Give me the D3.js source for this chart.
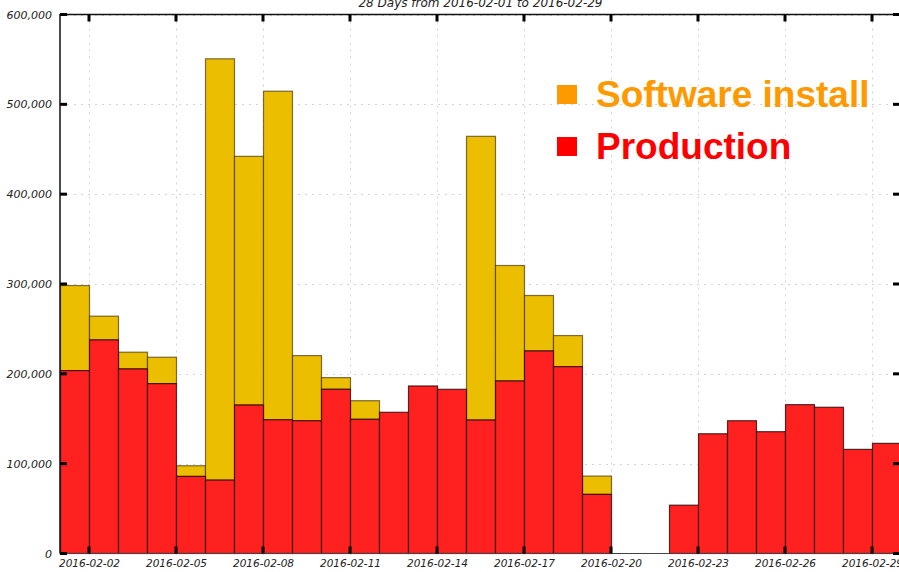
<!DOCTYPE html>
<html>
<head>
<meta charset="utf-8">
<script src="https://cdn.jsdelivr.net/npm/d3@7"></script>
<style>
  html, body { margin: 0; padding: 0; background: #fff; }
  svg { display: block; }
</style>
</head>
<body>
<svg id="chart" width="899" height="572"></svg>
<script>
// ---- data ----
const days = ["2016-02-01","2016-02-02","2016-02-03","2016-02-04","2016-02-05","2016-02-06","2016-02-07",
  "2016-02-08","2016-02-09","2016-02-10","2016-02-11","2016-02-12","2016-02-13","2016-02-14",
  "2016-02-15","2016-02-16","2016-02-17","2016-02-18","2016-02-19","2016-02-20","2016-02-21",
  "2016-02-22","2016-02-23","2016-02-24","2016-02-25","2016-02-26","2016-02-27","2016-02-28","2016-02-29"];
const production = [203600,237800,205500,189100,85800,81700,165300,148900,147800,182800,149400,157200,186500,182800,
  148600,192100,225500,208000,65800,0,0,53800,133300,147800,135600,165700,162800,115900,122600];
const softwareInstall = [94700,26400,18600,29400,11900,469000,276800,365700,72500,13000,20700,0,0,0,
  315800,128500,61700,34600,20400,0,0,0,0,0,0,0,0,0,0];
const yTickValues = [0,100000,200000,300000,400000,500000,600000];
const xTickLabels = ["2016-02-02","2016-02-05","2016-02-08","2016-02-11","2016-02-14","2016-02-17","2016-02-20","2016-02-23","2016-02-26","2016-02-29"];
const seriesNames = ["Software install","Production"];
const titleText = "28 Days from 2016-02-01 to 2016-02-29";

// ---- layout ----
const svg = d3.select("#chart");
const pLeft = 60, pRight = 901, pTop = 14.5, pBottom = 553.5;
const parse = d3.utcParse("%Y-%m-%d");
const fmtDate = d3.utcFormat("%Y-%m-%d");

const x = d3.scaleUtc()
  .domain([parse(days[0]), d3.utcDay.offset(parse(days[days.length-1]), 1)])
  .range([pLeft, pRight]);
const y = d3.scaleLinear().domain([0, 600000]).range([pBottom, pTop]);

const xTicks = xTickLabels.map(parse);
const fontFam = "'DejaVu Sans', sans-serif";

// grid
const grid = svg.append("g").attr("stroke", "#d4d4d4").attr("stroke-dasharray", "2,5").attr("stroke-width", 1);
grid.selectAll("line.v").data(xTicks).join("line")
  .attr("x1", d => Math.round(x(d)) + 0.5).attr("x2", d => Math.round(x(d)) + 0.5)
  .attr("y1", pTop).attr("y2", pBottom);
grid.selectAll("line.h").data(yTickValues.slice(1)).join("line")
  .attr("y1", d => Math.round(y(d)) + 0.5).attr("y2", d => Math.round(y(d)) + 0.5)
  .attr("x1", pLeft).attr("x2", pRight);

// bars
const data = days.map((d, i) => ({ date: parse(d), prod: production[i], sw: softwareInstall[i] }));
const bars = svg.append("g");
bars.selectAll("rect.sw").data(data.filter(d => d.sw > 0)).join("rect")
  .attr("x", d => x(d.date) + 0.5)
  .attr("width", d => x(d3.utcDay.offset(d.date, 1)) - x(d.date))
  .attr("y", d => y(d.prod + d.sw))
  .attr("height", d => y(d.prod) - y(d.prod + d.sw))
  .attr("fill", "#EBBE00").attr("stroke", "rgba(40,30,0,0.6)").attr("stroke-width", 1.2);
bars.selectAll("rect.pr").data(data.filter(d => d.prod > 0)).join("rect")
  .attr("x", d => x(d.date) + 0.5)
  .attr("width", d => x(d3.utcDay.offset(d.date, 1)) - x(d.date))
  .attr("y", d => y(d.prod))
  .attr("height", d => y(0) - y(d.prod))
  .attr("fill", "#FF2020").attr("stroke", "rgba(30,0,0,0.75)").attr("stroke-width", 1.2);

// frame
const frame = svg.append("g").attr("stroke", "#111").attr("fill", "none");
frame.append("line").attr("x1", pLeft).attr("x2", pRight + 2).attr("y1", pTop).attr("y2", pTop).attr("stroke-width", 1.5);
frame.append("line").attr("x1", pLeft).attr("x2", pLeft).attr("y1", pTop - 0.5).attr("y2", pBottom).attr("stroke-width", 1.5);
frame.append("line").attr("x1", pLeft).attr("x2", pRight + 2).attr("y1", pBottom).attr("y2", pBottom).attr("stroke", "#444").attr("stroke-width", 1.2);

// tick marks
const tk = svg.append("g").attr("stroke", "#000").attr("stroke-width", 3);
tk.selectAll("line.b").data(xTicks).join("line")
  .attr("x1", d => x(d)).attr("x2", d => x(d)).attr("y1", pBottom).attr("y2", pBottom - 7);
tk.selectAll("line.t").data(xTicks).join("line")
  .attr("x1", d => x(d)).attr("x2", d => x(d)).attr("y1", pTop).attr("y2", pTop + 7);
tk.selectAll("line.l").data(yTickValues).join("line")
  .attr("x1", pLeft).attr("x2", pLeft + 7).attr("y1", d => y(d)).attr("y2", d => y(d));
tk.selectAll("line.r").data(yTickValues).join("line")
  .attr("x1", 899).attr("x2", 899 - 6).attr("y1", d => y(d)).attr("y2", d => y(d));

// axes labels
const xAxis = svg.append("g").attr("transform", `translate(0,${pBottom})`)
  .call(d3.axisBottom(x).tickValues(xTicks).tickFormat(fmtDate).tickSize(0).tickPadding(6));
xAxis.select(".domain").remove();
xAxis.selectAll("text").attr("font-family", fontFam).attr("font-style", "italic")
  .attr("font-size", "10.5px").attr("fill", "#222");

const yAxis = svg.append("g").attr("transform", `translate(${pLeft},0)`)
  .call(d3.axisLeft(y).tickValues(yTickValues).tickFormat(d3.format(",")).tickSize(0).tickPadding(8));
yAxis.select(".domain").remove();
yAxis.selectAll("text").attr("font-family", fontFam).attr("font-style", "italic")
  .attr("font-size", "11px").attr("fill", "#222");

// title
svg.append("text").attr("x", (pLeft + pRight) / 2).attr("y", 7)
  .attr("text-anchor", "middle").attr("font-family", fontFam).attr("font-style", "italic")
  .attr("font-size", "12px").attr("fill", "#222").text(titleText);

// legend
const legColors = ["#FF9900", "#FF0000"];
const leg = svg.append("g");
const legY = [107, 159];
seriesNames.forEach((name, i) => {
  leg.append("rect").attr("x", 557).attr("y", legY[i] - 22).attr("width", 20).attr("height", 19).attr("fill", legColors[i]);
  leg.append("text").attr("x", 596).attr("y", legY[i])
    .attr("font-family", "'Liberation Sans', Arial, sans-serif").attr("font-weight", "bold")
    .attr("font-size", "37px").attr("fill", legColors[i]).text(name);
});
</script>
</body>
</html>
